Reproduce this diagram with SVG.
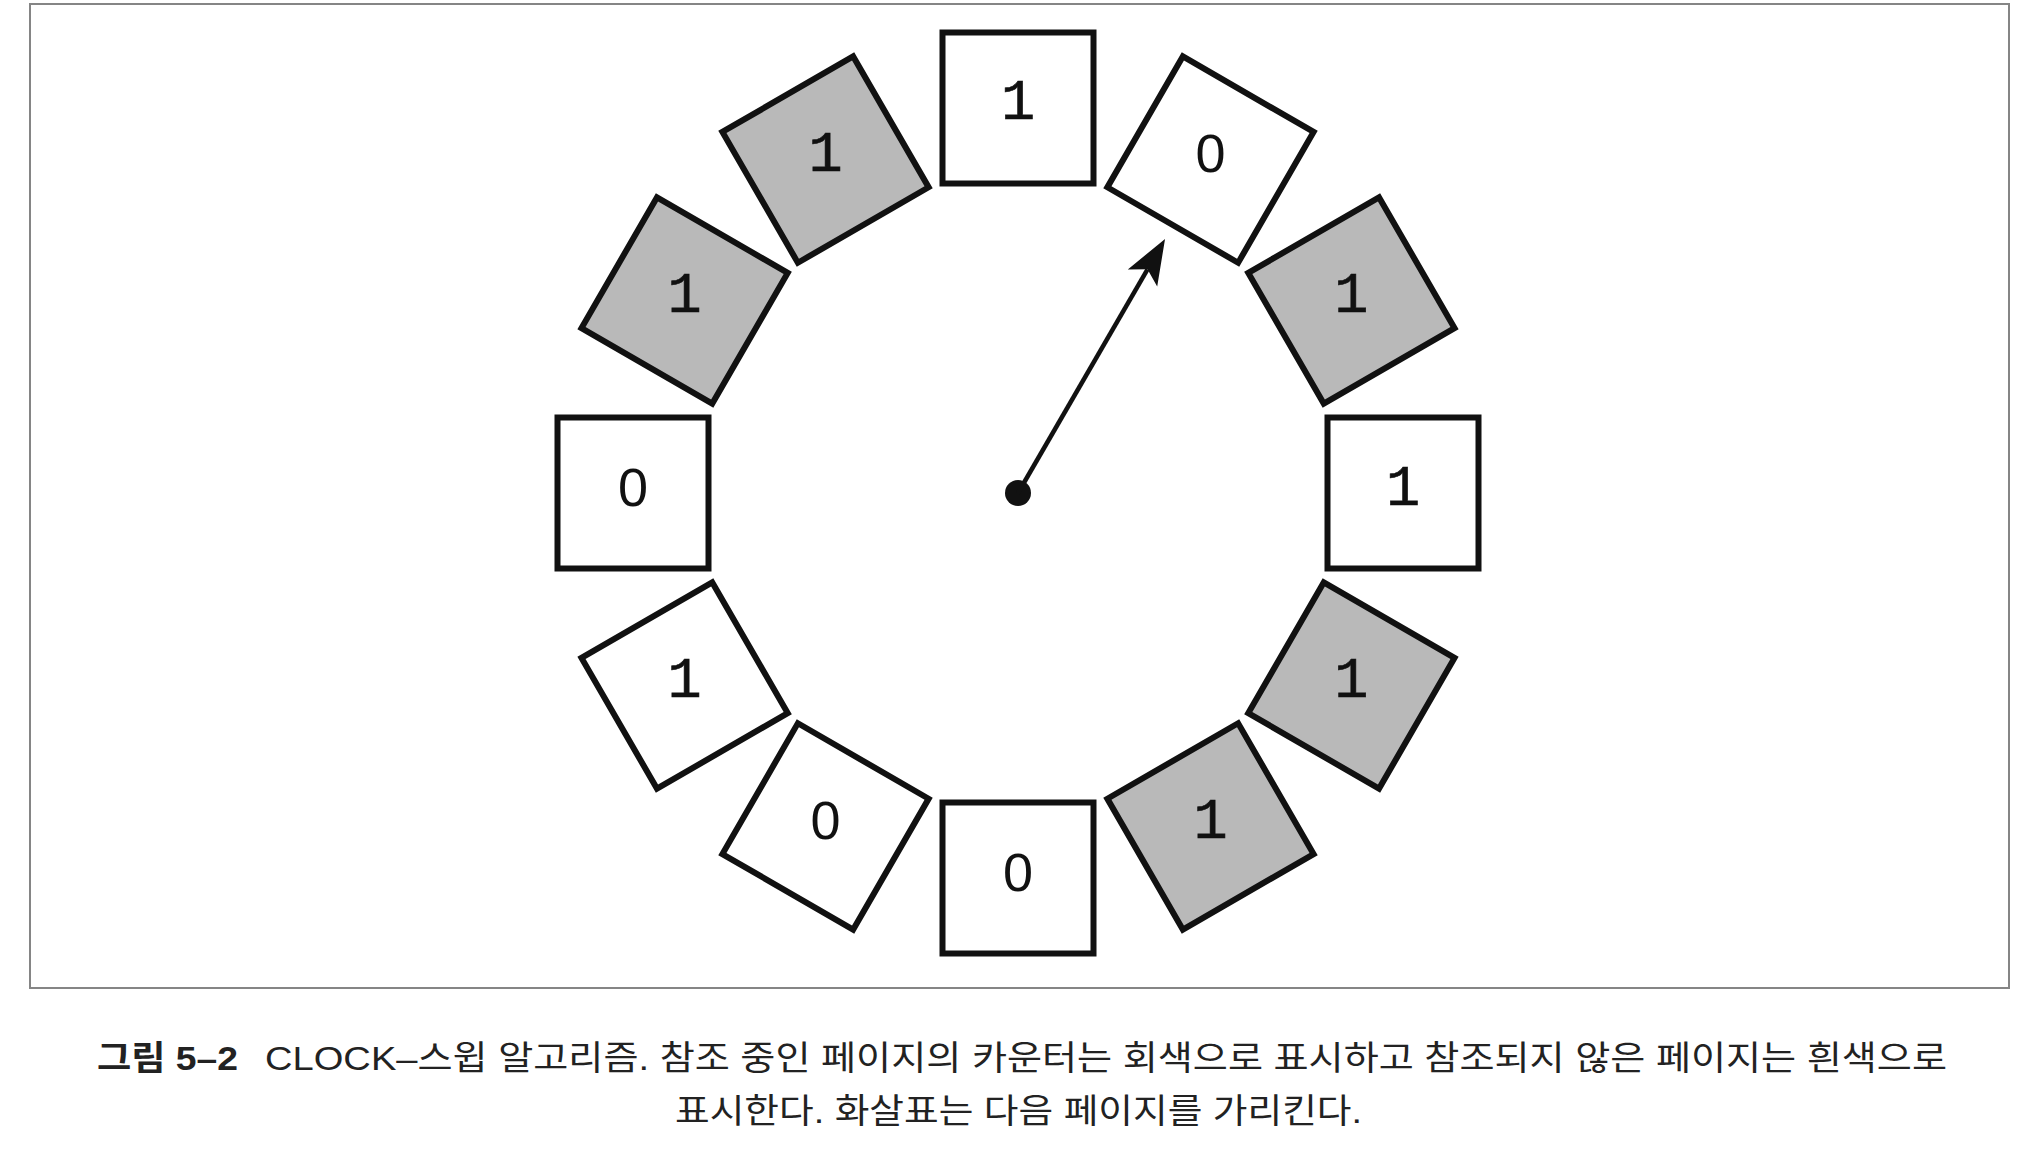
<svg xmlns="http://www.w3.org/2000/svg" width="2044" height="1160" viewBox="0 0 2044 1160">
<style>
.box{stroke:#111;stroke-width:6;stroke-linejoin:miter}
.w{fill:#fff}
.g{fill:#b9b9b9}
.d{font-family:"Liberation Mono","DejaVu Sans Mono",monospace;font-size:57px;fill:#111;stroke:#111;stroke-width:0.6;text-anchor:middle}
.z{font-family:"Liberation Sans","Noto Sans",sans-serif;font-size:54px;fill:#111;text-anchor:middle}
.cap{font-family:"Liberation Sans","Noto Sans CJK KR",sans-serif;font-size:34px;fill:#222}
</style>
<defs>
<marker id="ah" markerUnits="userSpaceOnUse" markerWidth="60" markerHeight="40" viewBox="-12 -20 50 40" refX="0" refY="0" orient="auto">
<path d="M35,0 L-10,-17 L0,0 L-10,17 Z" fill="#111"/>
</marker>
</defs>
<rect x="30" y="4" width="1979" height="984" fill="#fff" stroke="#858585" stroke-width="2"/>
<g id="page0"><rect class="box w" x="-75.5" y="-75.5" width="151" height="151" transform="translate(1018 108) rotate(0)"/><text class="d" x="1018" y="119">1</text></g>
<g id="page1"><rect class="box w" x="-75.5" y="-75.5" width="151" height="151" transform="translate(1210.5 159.6) rotate(30)"/><text class="z" x="1210.5" y="172">0</text></g>
<g id="page2"><rect class="box g" x="-75.5" y="-75.5" width="151" height="151" transform="translate(1351.4 300.5) rotate(60)"/><text class="d" x="1351.4" y="312">1</text></g>
<g id="page3"><rect class="box w" x="-75.5" y="-75.5" width="151" height="151" transform="translate(1403 493) rotate(90)"/><text class="d" x="1403" y="504.5">1</text></g>
<g id="page4"><rect class="box g" x="-75.5" y="-75.5" width="151" height="151" transform="translate(1351.4 685.5) rotate(120)"/><text class="d" x="1351.4" y="697">1</text></g>
<g id="page5"><rect class="box g" x="-75.5" y="-75.5" width="151" height="151" transform="translate(1210.5 826.4) rotate(150)"/><text class="d" x="1210.5" y="838">1</text></g>
<g id="page6"><rect class="box w" x="-75.5" y="-75.5" width="151" height="151" transform="translate(1018 878) rotate(180)"/><text class="z" x="1018" y="890.5">0</text></g>
<g id="page7"><rect class="box w" x="-75.5" y="-75.5" width="151" height="151" transform="translate(825.5 826.4) rotate(210)"/><text class="z" x="825.5" y="839">0</text></g>
<g id="page8"><rect class="box w" x="-75.5" y="-75.5" width="151" height="151" transform="translate(684.6 685.5) rotate(240)"/><text class="d" x="684.6" y="697">1</text></g>
<g id="page9"><rect class="box w" x="-75.5" y="-75.5" width="151" height="151" transform="translate(633 493) rotate(270)"/><text class="z" x="633" y="505.5">0</text></g>
<g id="page10"><rect class="box g" x="-75.5" y="-75.5" width="151" height="151" transform="translate(684.6 300.5) rotate(300)"/><text class="d" x="684.6" y="312">1</text></g>
<g id="page11"><rect class="box g" x="-75.5" y="-75.5" width="151" height="151" transform="translate(825.5 159.6) rotate(330)"/><text class="d" x="825.5" y="171">1</text></g>
<g id="hub"><circle cx="1018" cy="493" r="13" fill="#111"/></g>
<g id="connectors">
<line x1="1018" y1="493" x2="1147.5" y2="269.3" stroke="#111" stroke-width="4.5" marker-end="url(#ah)"/>
</g>
<g id="caption">
<text class="cap" x="97" y="1070" font-weight="bold" textLength="141" lengthAdjust="spacingAndGlyphs">그림 5–2</text>
<text class="cap" x="265" y="1070" textLength="1682" lengthAdjust="spacingAndGlyphs">CLOCK–스윕 알고리즘. 참조 중인 페이지의 카운터는 회색으로 표시하고 참조되지 않은 페이지는 흰색으로</text>
<text class="cap" x="675" y="1123" textLength="687" lengthAdjust="spacingAndGlyphs">표시한다. 화살표는 다음 페이지를 가리킨다.</text>
</g>
</svg>
